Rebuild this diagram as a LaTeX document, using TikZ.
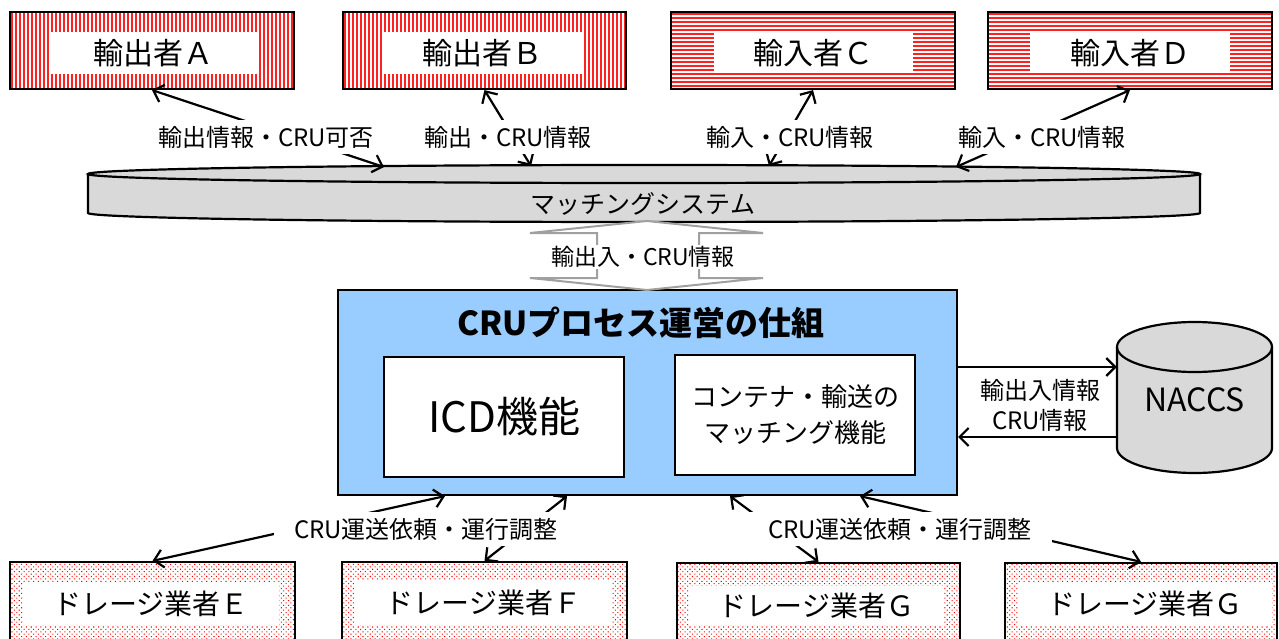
\documentclass[tikz,border=0pt]{standalone}
\usepackage{fontspec}
\setmainfont{Noto Sans CJK JP}
\usetikzlibrary{arrows.meta,patterns,patterns.meta}
\definecolor{sysgray}{HTML}{D9D9D9}
\definecolor{crublue}{HTML}{99CCFF}
\definecolor{arrgray}{HTML}{A0A0A0}
\definecolor{stripe}{HTML}{FF2020}
\newcommand{\fsz}[2]{\fontsize{#1}{#2}\selectfont}
\tikzset{
  frame/.style={draw=black, line width=2.2pt, rectangle, inner sep=0pt},
  vstripes/.style={path picture={\foreach \k in {2,6,...,302}{\draw[stripe, line width=1.3pt] ([xshift=\k pt]path picture bounding box.north west) -- ([xshift=\k pt]path picture bounding box.south west);}}},
  hstripes/.style={path picture={\foreach \k in {2,6,...,90}{\draw[stripe, line width=1.3pt] ([yshift=-\k pt]path picture bounding box.north west) -- ([yshift=-\k pt]path picture bounding box.north east);}}},
  dotfill/.style={pattern={Dots[distance=3.4pt, radius=0.75pt, angle=45]}, pattern color=red},
  whitein/.style={fill=white, inner sep=0pt, rectangle},
  conn/.style={line width=2.2pt, {Straight Barb[length=9pt,width=18pt]}-{Straight Barb[length=9pt,width=18pt]}},
  oneway/.style={line width=2.2pt, -{Straight Barb[length=9pt,width=18pt]}},
  lbl/.style={fill=white, inner xsep=20pt, inner ysep=0pt, minimum height=34pt, font=\fsz{24}{28}},
  boxtext/.style={whitein, font=\fsz{30}{30}},
  dragtext/.style={whitein, font=\fsz{28}{28}},
}
\begin{document}
\begin{tikzpicture}[x=1pt,y=-1pt]
\useasboundingbox (0,0) rectangle (1279,639);
\clip (0,0) rectangle (1279,639);
\fill[white] (0,0) rectangle (1279,639);

% top boxes
\node[frame, vstripes, minimum width=284pt, minimum height=77pt] (A) at (152,50.5) {};
\node[boxtext, minimum width=208pt, minimum height=42pt] (At) at (153,53) {輸出者Ａ};
\node[frame, vstripes, minimum width=283pt, minimum height=77pt] (B) at (484.5,50.5) {};
\node[boxtext, minimum width=200pt, minimum height=42pt] (Bt) at (482,53) {輸出者Ｂ};
\node[frame, hstripes, minimum width=284pt, minimum height=77pt] (C) at (813,50.5) {};
\node[boxtext, minimum width=199pt, minimum height=40pt] (Ct) at (813.5,53) {輸入者Ｃ};
\node[frame, hstripes, minimum width=284pt, minimum height=77pt] (D) at (1130,50.5) {};
\node[boxtext, minimum width=200pt, minimum height=40pt] (Dt) at (1130,53) {輸入者Ｄ};

% matching system (flat cylinder)
\fill[sysgray] (88,174) -- (88,213) arc[start angle=180,end angle=0,x radius=556,y radius=9] -- (1200,174) arc[start angle=0,end angle=-180,x radius=556,y radius=9] -- cycle;
\draw[line width=2.2pt] (88,174) -- (88,213) arc[start angle=180,end angle=0,x radius=556,y radius=9] -- (1200,174);
\draw[line width=2.2pt] (644,174) ellipse [x radius=556, y radius=9];
\node[inner sep=0pt, font=\fsz{25}{25}] (sys) at (643,204) {マッチングシステム};
\coordinate (s1) at (384,167);
\coordinate (s2) at (531,166);
\coordinate (s3) at (769,166);
\coordinate (s4) at (956,167);

% CRU box
\node[frame, fill=crublue, minimum width=619pt, minimum height=205pt] (cru) at (647.5,392.5) {};
\node[font=\fsz{33}{33}\bfseries, inner sep=0pt] (title) at (641,323) {CRUプロセス運営の仕組};
\node[frame, fill=white, minimum width=240pt, minimum height=120pt, font=\fsz{42}{42}] (icd) at (504,417) {ICD機能};
\node[frame, fill=white, minimum width=240pt, minimum height=120pt, align=center, font=\fsz{26}{36}] (match) at (795,415) {コンテナ・輸送の\\マッチング機能};

% gray double arrow
\draw[arrgray, line width=2pt, fill=white] (647,221) -- (763,233) -- (699,233) -- (699,278) -- (763,278) -- (647,290) -- (530,278) -- (597,278) -- (597,233) -- (530,233) -- cycle;
\node[fill=white, inner sep=1pt, font=\fsz{23}{23}] (gl) at (643,257) {輸出入・CRU情報};

% NACCS cylinder
\fill[sysgray] (1117,347) -- (1117,448) arc[start angle=180,end angle=0,x radius=77.5,y radius=25] -- (1272,347) arc[start angle=0,end angle=-180,x radius=77.5,y radius=25] -- cycle;
\draw[line width=2.2pt] (1117,347) -- (1117,448) arc[start angle=180,end angle=0,x radius=77.5,y radius=25] -- (1272,347);
\draw[line width=2.2pt] (1194.5,347) ellipse [x radius=77.5, y radius=25];
\node[minimum width=155pt, minimum height=151pt, inner sep=0pt] (naccs) at (1194.5,397.5) {};
\node[font=\fsz{32}{32}, inner sep=0pt] (naccst) at (1194.5,400) {NACCS};
\draw[oneway] (cru.east |- 0,367) -- (naccs.west |- 0,367);
\draw[oneway] (naccs.west |- 0,437) -- (cru.east |- 0,437);
\node[align=center, font=\fsz{24}{30}, inner sep=0pt] (nl) at (1040,405) {輸出入情報\\CRU情報};

% bottom boxes
\node[frame, dotfill, minimum width=285pt, minimum height=98pt] (E) at (152.5,611) {};
\node[dragtext, minimum width=256pt, minimum height=43pt] (Et) at (151,603.5) {ドレージ業者Ｅ};
\node[frame, dotfill, minimum width=285pt, minimum height=98pt] (F) at (484.5,611) {};
\node[dragtext, minimum width=257pt, minimum height=45pt] (Ft) at (483.5,602.5) {ドレージ業者Ｆ};
\node[frame, dotfill, minimum width=283pt, minimum height=98pt] (G1) at (818.5,612) {};
\node[dragtext, minimum width=255pt, minimum height=39pt] (G1t) at (816.5,605.5) {ドレージ業者Ｇ};
\node[frame, dotfill, minimum width=272pt, minimum height=98pt] (G2) at (1141,612) {};
\node[dragtext, minimum width=254pt, minimum height=43pt] (G2t) at (1145,604) {ドレージ業者Ｇ};

% connectors top
\draw[conn] (A.south) -- (s1);
\draw[conn] (B.south) -- (s2);
\draw[conn] (C.south) -- (s3);
\draw[conn] (D.south) -- (s4);
\node[lbl] (l1) at (266,137) {輸出情報・CRU可否};
\node[lbl] (l2) at (508,137) {輸出・CRU情報};
\node[lbl] (l3) at (790,137) {輸入・CRU情報};
\node[lbl] (l4) at (1042,137) {輸入・CRU情報};

% connectors bottom
\draw[conn] (E.north) -- (cru.south -| 445,0);
\draw[conn] (F.north) -- (cru.south -| 567,0);
\draw[conn] (G1.north) -- (cru.south -| 730,0);
\draw[conn] (G2.north) -- (cru.south -| 860,0);
\node[lbl] (l5) at (426,529) {CRU運送依頼・運行調整};
\node[lbl] (l6) at (900,529) {CRU運送依頼・運行調整};
\end{tikzpicture}
\end{document}
